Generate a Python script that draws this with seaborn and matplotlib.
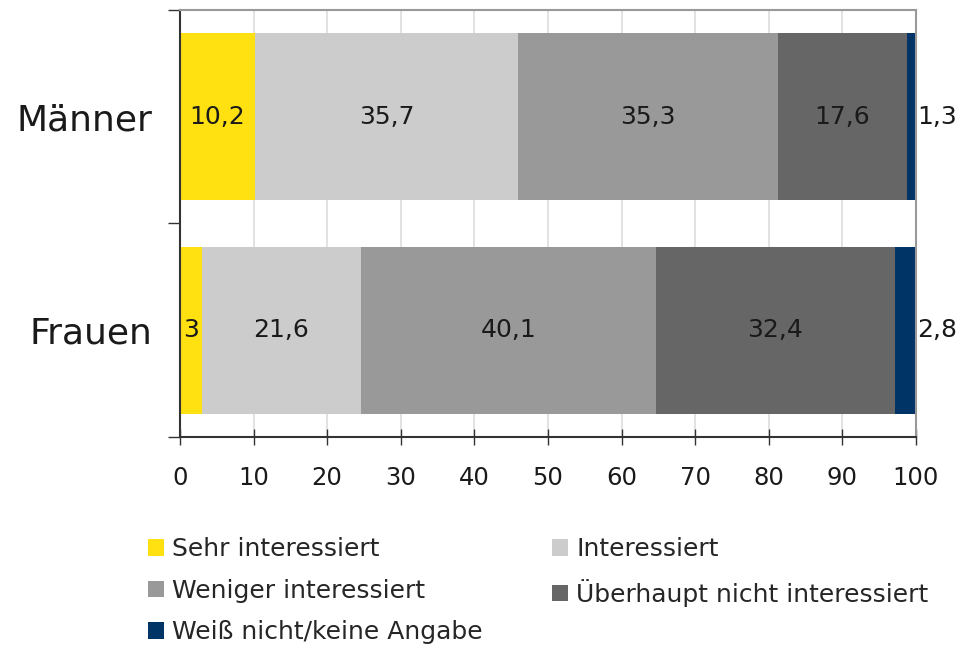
import numpy as np
import pandas as pd
import matplotlib
matplotlib.use("Agg")
import matplotlib.pyplot as plt
import seaborn as sns
from matplotlib.patches import Patch

# data
groups = ["Männer", "Frauen"]
series = ["Sehr interessiert", "Interessiert", "Weniger interessiert",
          "Überhaupt nicht interessiert", "Weiß nicht/keine Angabe"]
sehr = [10.2, 3.0]
interessiert = [35.7, 21.6]
weniger = [35.3, 40.1]
ueberhaupt = [17.6, 32.4]
weiss = [1.3, 2.8]
xticks = [0, 10, 20, 30, 40, 50, 60, 70, 80, 90, 100]

colors = ["#FFE011", "#CCCCCC", "#999999", "#666666", "#003366"]

values = np.array([sehr, interessiert, weniger, ueberhaupt, weiss])
cum = values.cumsum(axis=0)

sns.set_theme(style="white")
plt.rcParams["font.family"] = ["DejaVu Sans"]

fig = plt.figure(figsize=(9.59, 6.45), dpi=100)
ax = fig.add_axes([0.1877, 0.3225, 0.7673, 0.662])

# stacked bars: draw cumulative totals from the largest down
for k in range(len(series) - 1, -1, -1):
    df = pd.DataFrame({"group": groups, "value": cum[k]})
    sns.barplot(data=df, x="value", y="group", orient="h", color=colors[k],
                width=0.78, saturation=1, linewidth=0, ax=ax, zorder=2)

# segment labels
for i, g in enumerate(groups):
    for k in range(len(series)):
        v = values[k, i]
        txt = f"{v:g}".replace(".", ",")
        if k == len(series) - 1:
            ax.text(100.2, i, txt, ha="left", va="center", fontsize=18,
                    color="#1a1a1a", clip_on=False, zorder=5)
        else:
            ax.text(cum[k, i] - v / 2, i, txt, ha="center", va="center",
                    fontsize=18, color="#1a1a1a", zorder=5)

ax.set_xlim(0, 100)
ax.set_ylim(1.5, -0.5)
ax.set_xticks(xticks)
ax.set_xticklabels([str(t) for t in xticks], fontsize=17.5, color="#1a1a1a")
ax.set_xlabel("")
ax.set_ylabel("")
ax.set_yticks([0, 1])
ax.set_yticklabels(groups, fontsize=26, color="#1a1a1a")
ax.set_yticks([-0.5, 0.5, 1.5], minor=True)
ax.tick_params(axis="y", which="major", length=0, pad=20)
ax.tick_params(axis="y", which="minor", length=8.5, width=1, color="#333333", direction="out", left=True)
ax.tick_params(axis="x", which="major", length=11, width=1, color="#333333", direction="inout", bottom=True, pad=15.5)

ax.grid(axis="x", color="#DDDDDD", linewidth=1.2, zorder=0)
ax.set_axisbelow(True)
for side in ["top", "right"]:
    ax.spines[side].set_color("#999999")
    ax.spines[side].set_linewidth(1.5)
for side in ["left", "bottom"]:
    ax.spines[side].set_color("#333333")
    ax.spines[side].set_linewidth(1.5)

# legend, row-major order over two columns
order = [0, 2, 4, 1, 3]
handles = [Patch(facecolor=colors[k], edgecolor="none", label=series[k]) for k in order]
fig.legend(handles=handles, loc="upper left", bbox_to_anchor=(0.154, 0.167),
           bbox_transform=fig.transFigure, ncol=2, frameon=False, fontsize=18,
           handlelength=0.64, handleheight=0.64, handletextpad=0.32,
           labelspacing=0.7, columnspacing=2.8, borderaxespad=0, borderpad=0)

fig.savefig("out.png", dpi=100)
